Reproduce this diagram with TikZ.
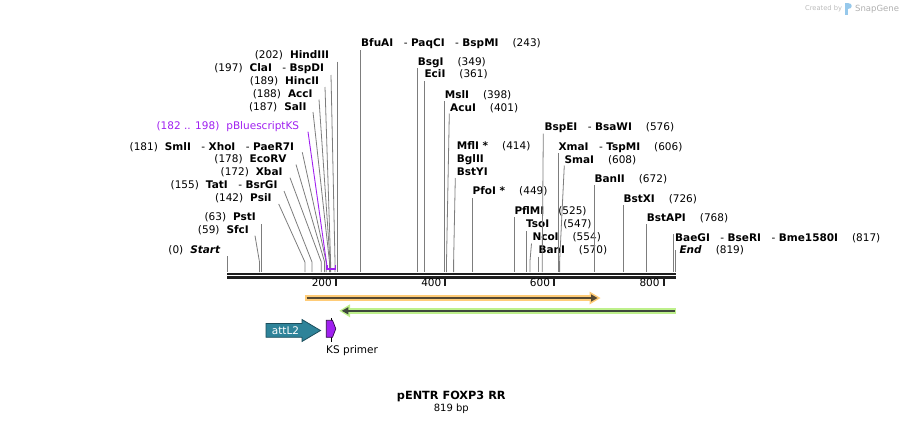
\documentclass[tikz,border=0pt]{standalone}
\usepackage{fontspec}
\setmainfont{DejaVu Sans}
\usetikzlibrary{arrows.meta}
\definecolor{cutline}{RGB}{125,125,125}
\definecolor{barcol}{RGB}{30,30,30}
\definecolor{kspurple}{RGB}{160,32,240}
\definecolor{orhalo}{RGB}{255,204,120}
\definecolor{grhalo}{RGB}{190,240,140}
\definecolor{ordark}{RGB}{85,72,50}
\definecolor{grdark}{RGB}{62,72,60}
\definecolor{attteal}{RGB}{46,131,153}
\definecolor{attborder}{RGB}{28,78,92}
\definecolor{sgblue}{RGB}{150,200,235}
\definecolor{sggray}{RGB}{175,175,175}
\newcommand{\nm}[1]{\textbf{#1}}
\newcommand{\sepr}{\hspace{10.5pt}-\hspace{3.5pt}}
\newcommand{\gapl}{\hspace{7pt}}
\newcommand{\gapr}{\hspace{14pt}}
\tikzset{
  lbl/.style={inner sep=0pt, font=\fontsize{10.5}{12}\selectfont},
  lft/.style={lbl, anchor=base east},
  rgt/.style={lbl, anchor=base west},
  cut/.style={draw=cutline, line width=0.8pt},
  tick/.style={draw=barcol, line width=2pt},
}
\begin{document}
\begin{tikzpicture}[x=1pt,y=-1pt]
\useasboundingbox (0,0) rectangle (903,424);

% ---------- left labels ----------
\node[lft] (hind) at (329.3,58.3) {(202)\gapl\nm{HindIII}};
\node[lft] (cla) at (324.3,71.7) {(197)\gapl\nm{ClaI}\sepr\nm{BspDI}};
\node[lft] (hinc) at (319.3,84.3) {(189)\gapl\nm{HincII}};
\node[lft] (acc) at (312.7,97.5) {(188)\gapl\nm{AccI}};
\node[lft] (sal) at (306.7,110.7) {(187)\gapl\nm{SalI}};
\node[lft, text=kspurple] (pbs) at (299.3,129.3) {(182 .. 198)\gapl pBluescriptKS};
\node[lft] (sml) at (294.3,150) {(181)\gapl\nm{SmlI}\sepr\nm{XhoI}\sepr\nm{PaeR7I}};
\node[lft] (eco) at (286.7,162.5) {(178)\gapl\nm{EcoRV}};
\node[lft] (xba) at (282.7,175.7) {(172)\gapl\nm{XbaI}};
\node[lft] (tat) at (277.7,188.5) {(155)\gapl\nm{TatI}\sepr\nm{BsrGI}};
\node[lft] (psi) at (271.7,201.7) {(142)\gapl\nm{PsiI}};
\node[lft] (pst) at (256,220.7) {(63)\gapl\nm{PstI}};
\node[lft] (sfc) at (249,233.5) {(59)\gapl\nm{SfcI}};
\node[lft] (start) at (220.7,253.3) {(0)\gapl\textbf{\textit{Start}}};

% ---------- right labels ----------
\node[rgt] (bfu) at (361,46.7) {\nm{BfuAI}\sepr\nm{PaqCI}\sepr\nm{BspMI}\gapr(243)};
\node[rgt] (bsg) at (417.7,65) {\nm{BsgI}\gapr(349)};
\node[rgt] (eci) at (424.3,77.7) {\nm{EciI}\gapr(361)};
\node[rgt] (msl) at (444.7,98.3) {\nm{MslI}\gapr(398)};
\node[rgt] (acu) at (450,111) {\nm{AcuI}\gapr(401)};
\node[rgt] (mfl) at (456.7,149.7) {\nm{MflI *}\gapr(414)};
\node[rgt] (bgl) at (456.7,162.5) {\nm{BglII}};
\node[rgt] (bsty) at (456.7,175.5) {\nm{BstYI}};
\node[rgt] (pfo) at (472.5,194.5) {\nm{PfoI *}\gapr(449)};
\node[rgt] (bspe) at (544.3,130.5) {\nm{BspEI}\sepr\nm{BsaWI}\gapr(576)};
\node[rgt] (xma) at (558.3,150) {\nm{XmaI}\sepr\nm{TspMI}\gapr(606)};
\node[rgt] (sma) at (564.3,163) {\nm{SmaI}\gapr(608)};
\node[rgt] (ban2) at (594.3,182) {\nm{BanII}\gapr(672)};
\node[rgt] (bstx) at (623.3,202) {\nm{BstXI}\gapr(726)};
\node[rgt] (bsta) at (646.7,221) {\nm{BstAPI}\gapr(768)};
\node[rgt] (bae) at (675,241) {\nm{BaeGI}\sepr\nm{BseRI}\sepr\nm{Bme1580I}\gapr(817)};
\node[rgt] (endl) at (679.3,253.5) {\textbf{\textit{End}}\gapr(819)};
\node[rgt] (pfl) at (514.3,214.5) {\nm{PflMI}\gapr(525)};
\node[rgt] (tso) at (526,227.7) {\nm{TsoI}\gapr(547)};
\node[rgt] (nco) at (532.3,240.7) {\nm{NcoI}\gapr(554)};
\node[rgt] (ban1) at (538.3,253.5) {\nm{BanI}\gapr(570)};

% ---------- cut lines (left) ----------
\draw[cut] (337.7,61.7) -- (337.7,272);
\draw[cut] (331,75) -- (335,262) -- (335,272);
\draw[cut] (325,87) -- (330.6,262) -- (330.6,272);
\draw[cut] (319,99.5) -- (330.1,262) -- (330.1,272);
\draw[cut] (313,112) -- (329.5,262) -- (329.5,272);
\draw[cut] (302.3,152.3) -- (326.2,262) -- (326.2,272);
\draw[cut] (296,164.5) -- (324.6,262) -- (324.6,272);
\draw[cut] (290,177.7) -- (321.3,262) -- (321.3,272);
\draw[cut] (284,191) -- (312,262) -- (312,272);
\draw[cut] (278.7,204) -- (304.9,262) -- (304.9,272);
\draw[cut] (261.7,224.3) -- (261.7,272);
\draw[cut] (255,235.7) -- (259.5,262) -- (259.5,272);
\draw[cut] (227.3,256) -- (227.3,272);
% pBluescriptKS
\draw[draw=kspurple, line width=0.9pt] (308,131.7) -- (326.8,265);
\draw[draw=kspurple, line width=1.6pt] (326.8,265) -- (326.8,268.7) -- (335.5,268.7) -- (335.5,265);

% ---------- cut lines (right) ----------
\draw[cut] (360.2,50) -- (360.2,272);
\draw[cut] (417.7,68) -- (417.7,272);
\draw[cut] (424.3,81) -- (424.3,272);
\draw[cut] (444.7,101) -- (444.7,272);
\draw[cut] (449.3,113.5) -- (446.5,262) -- (446.5,272);
\draw[cut] (455.3,178) -- (453.6,262) -- (453.6,272);
\draw[cut] (472.7,198) -- (472.7,272);
\draw[cut] (543.3,133.5) -- (542.2,262) -- (542.2,272);
\draw[cut] (558.7,153.3) -- (558.7,272);
\draw[cut] (564.3,165.5) -- (559.6,262) -- (559.6,272);
\draw[cut] (594.7,185) -- (594.7,272);
\draw[cut] (623.7,205) -- (623.7,272);
\draw[cut] (646.7,224) -- (646.7,272);
\draw[cut] (673.5,234) -- (673.5,272);
\draw[cut] (675.2,250) -- (675.2,272);
\draw[cut] (514.3,217.3) -- (514.3,272);
\draw[cut] (526.3,231) -- (526.3,272);
\draw[cut] (531.5,243.5) -- (529.9,262) -- (529.9,272);
\draw[cut] (538.8,256.5) -- (538.8,272);

% ---------- sequence bar ----------
\draw[draw=barcol, line width=2.6pt] (227.3,273.8) -- (676,273.8);
\draw[draw=barcol, line width=2.2pt] (227.3,277.4) -- (676,277.4);
\draw[tick] (336.3,278) -- (336.3,286.3);
\draw[tick] (445.3,278) -- (445.3,286.3);
\draw[tick] (554,278) -- (554,286.3);
\draw[tick] (663.6,278) -- (663.6,286.3);
\node[lft] (t200) at (332,286.7) {200};
\node[lft] (t400) at (441.5,286.7) {400};
\node[lft] (t600) at (550.2,286.7) {600};
\node[lft] (t800) at (659.8,286.7) {800};

% ---------- features ----------
\draw[draw=orhalo, line width=5.5pt] (305,298) -- (592,298);
\fill[orhalo] (589.5,291.5) -- (600.5,298) -- (589.5,304.5) -- cycle;
\draw[draw=ordark, line width=2pt] (306.5,298) -- (592,298);
\fill[ordark] (591,294.3) -- (597.5,298) -- (591,301.7) -- cycle;

\draw[draw=grhalo, line width=5.5pt] (347,310.8) -- (676,310.8);
\fill[grhalo] (350,304.3) -- (339.3,310.8) -- (350,317.3) -- cycle;
\draw[draw=grdark, line width=2pt] (347,310.8) -- (674.5,310.8);
\fill[grdark] (348.3,307.1) -- (341.8,310.8) -- (348.3,314.5) -- cycle;

% attL2
\draw[fill=attteal, draw=attborder, line width=0.8pt]
  (266,323.5) -- (302,323.5) -- (302,319.5) -- (320.5,330.5) -- (302,341.5) -- (302,337.3) -- (266,337.3) -- cycle;
\node[lbl, anchor=base, text=white] (attl2) at (285.5,334.3) {attL2};

% KS primer
\draw[draw=black, line width=0.8pt] (331,318) -- (331,341.8);
\draw[fill=kspurple, draw=black!70!kspurple, line width=0.7pt]
  (326.3,320.3) -- (332.5,320.3) -- (335.8,328.8) -- (332.5,337.3) -- (326.3,337.3) -- cycle;
\node[lbl, anchor=base west] (ksp) at (326,353.5) {KS primer};

% ---------- title ----------
\node[inner sep=0pt, anchor=base, font=\fontsize{11.3}{13}\selectfont\bfseries] (title) at (451.3,399) {pENTR FOXP3 RR};
\node[inner sep=0pt, anchor=base, font=\fontsize{10}{12}\selectfont] (bp) at (451.3,411.5) {819 bp};

% ---------- SnapGene mark ----------
\node[inner sep=0pt, anchor=base west, text=sggray!85, font=\fontsize{6.7}{8}\selectfont] (cb) at (805,10) {Created by};
\fill[sgblue] (845,3) rectangle (848.2,14.5);
\fill[sgblue] (848.2,3) .. controls (853,3) and (853,9) .. (848.2,9) -- cycle;
\node[inner sep=0pt, anchor=base west, text=sggray, font=\fontsize{8.5}{10}\selectfont] (sg) at (855,11) {SnapGene};
\end{tikzpicture}
\end{document}
